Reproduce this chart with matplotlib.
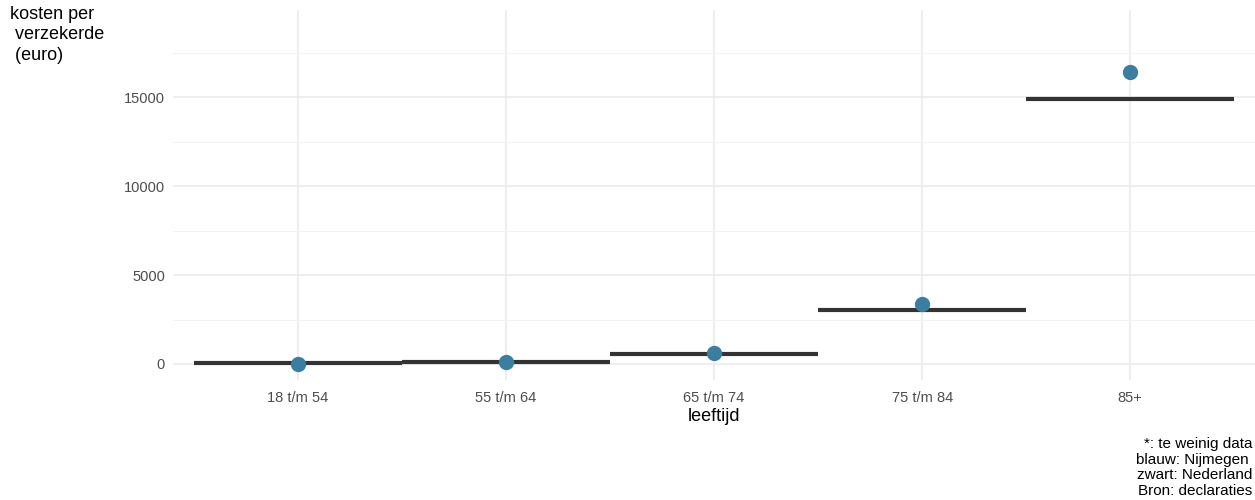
import numpy as np
import matplotlib
matplotlib.use('Agg')
import matplotlib.pyplot as plt
from matplotlib.ticker import MultipleLocator

plt.rcParams['font.family'] = ['Liberation Sans', 'DejaVu Sans']

### data
leeftijd = ['18 t/m 54', '55 t/m 64', '65 t/m 74', '75 t/m 84', '85+']
nijmegen = [20, 100, 600, 3400, 16400]
nederland = [30, 130, 580, 3030, 14880]

fig = plt.figure(figsize=(12.55, 5), dpi=100)
ax = fig.add_axes([0.138, 0.24, 0.862, 0.74])

x = np.arange(len(leeftijd))
# zwart: Nederland, horizontal segments
ax.hlines(nederland, x - 0.5, x + 0.5, color='#333333', linewidth=3, zorder=3)
# blauw: Nijmegen
ax.plot(x, nijmegen, 'o', color='#3b7ea1', markersize=10, zorder=4)

ax.set_xlim(-0.6, 4.6)
ax.set_ylim(-900, 19900)
ax.set_xticks(x)
ax.set_xticklabels(leeftijd)
ax.set_yticks([0, 5000, 10000, 15000])
ax.yaxis.set_minor_locator(MultipleLocator(2500))

ax.grid(which='major', color='#ebebeb', linewidth=1.2)
ax.grid(which='minor', axis='y', color='#f2f2f2', linewidth=0.8)
ax.set_axisbelow(True)
for s in ax.spines.values():
    s.set_visible(False)
ax.tick_params(which='both', length=0, labelsize=10.5, labelcolor='#4d4d4d')
ax.tick_params(axis='x', pad=8)
ax.tick_params(axis='y', pad=6)

ax.set_xlabel('leeftijd', fontsize=13, labelpad=2)
fig.text(0.008, 0.988, 'kosten per\n verzekerde\n (euro)', fontsize=13, ha='left', va='top',
         linespacing=1.25)
fig.text(0.998, 0.004, '*: te weinig data\nblauw: Nijmegen \nzwart: Nederland\nBron: declaraties',
         fontsize=11, ha='right', va='bottom', linespacing=1.15)

plt.savefig('out.png', dpi=100)
